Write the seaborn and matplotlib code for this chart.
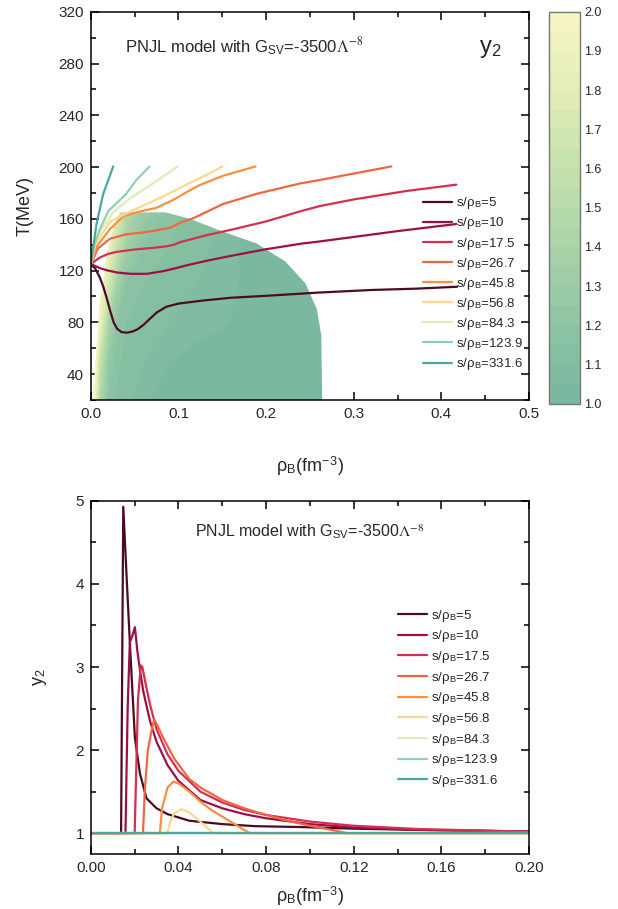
import numpy as np
import pandas as pd
import matplotlib.pyplot as plt
import seaborn as sns
from matplotlib.patches import Polygon

# ---- legend labels / colours (s/rho_B values) ----
s_values = ["5", "10", "17.5", "26.7", "45.8", "56.8", "84.3", "123.9", "331.6"]
line_colors = ["#4d0a24", "#9c1046", "#d42f50", "#f26541", "#fa8f3f",
               "#fdd88c", "#dcedba", "#90cfb5", "#47aaa2"]

# ---- upper panel: isentropes T(rho_B) ----
rho_5 = [0.0, 0.005, 0.01, 0.014, 0.018, 0.022, 0.026, 0.030, 0.035, 0.041, 0.047, 0.053,
         0.06, 0.067, 0.075, 0.086, 0.10, 0.13, 0.16, 0.20, 0.26, 0.32, 0.37, 0.418]
T_5 = [125, 121.5, 115, 108, 99, 89, 80, 75, 72.5, 72, 72.8, 74.5, 78, 82.5, 87.5, 92,
       94.5, 97, 99, 100.5, 103, 105, 106, 107.5]
rho_10 = [0.0, 0.01, 0.018, 0.03, 0.045, 0.064, 0.082, 0.095, 0.109, 0.135, 0.163, 0.2,
          0.24, 0.261, 0.3, 0.35, 0.417]
T_10 = [125, 122, 120.3, 118.5, 117.5, 117.5, 119.5, 121.5, 124, 128, 131.8, 136.5,
        140.8, 142.5, 146, 150.5, 156]
rho_17 = [0.0, 0.01, 0.02, 0.029, 0.05, 0.07, 0.086, 0.095, 0.102, 0.13, 0.163, 0.2,
          0.24, 0.261, 0.3, 0.36, 0.417]
T_17 = [125, 130, 133, 134.4, 136.3, 137.5, 138.7, 140, 142, 147, 152, 158, 166,
        169.8, 175, 181.5, 186.4]
rho_26 = [0.0, 0.008, 0.0217, 0.04, 0.06, 0.078, 0.09, 0.102, 0.117, 0.151, 0.19, 0.24,
          0.261, 0.3, 0.343]
T_26 = [125, 137, 144.6, 148, 149.5, 151.5, 153, 157, 160.5, 171.5, 179.5, 187.5, 190,
        195, 200.5]
rho_45 = [0.0, 0.006, 0.0217, 0.037, 0.055, 0.075, 0.095, 0.113, 0.124, 0.151, 0.17, 0.188]
T_45 = [125, 138, 152, 162, 165.5, 168.5, 175, 182, 186, 193.3, 197, 200.5]
rho_56 = [0.0, 0.005, 0.0217, 0.04, 0.056, 0.075, 0.098, 0.115, 0.135, 0.150]
T_56 = [125, 140, 157.7, 164, 169, 175, 182.5, 188.5, 195, 200.5]
rho_84 = [0.0, 0.004, 0.012, 0.0255, 0.045, 0.067, 0.083, 0.099]
T_84 = [125, 140, 152, 165, 176, 185.6, 193, 200.5]
rho_123 = [0.0, 0.003, 0.0103, 0.02, 0.04, 0.052, 0.067]
T_123 = [125, 138, 152, 166, 179, 190, 200.5]
rho_331 = [0.0, 0.0027, 0.0065, 0.014, 0.0255]
T_331 = [125, 138, 156, 179, 200.5]

# ---- upper panel: y2 map (coarse table) ----
map_rho = [0.0, 0.005, 0.01, 0.02, 0.03, 0.04, 0.06, 0.09, 0.12, 0.15, 0.18, 0.22, 0.27]
map_T = [20, 50, 80, 110, 140, 170]
map_y2 = [
    [2.0, 1.9, 1.45, 1.2, 1.14, 1.12, 1.06, 1.02, 1.0, 1.0, 1.0, 1.0, 1.0],
    [2.0, 2.0, 1.6, 1.25, 1.16, 1.13, 1.1, 1.05, 1.02, 1.0, 1.0, 1.0, 1.0],
    [2.0, 2.0, 1.9, 1.4, 1.2, 1.15, 1.12, 1.1, 1.08, 1.06, 1.02, 1.0, 1.0],
    [2.0, 2.0, 2.0, 1.7, 1.35, 1.2, 1.15, 1.12, 1.1, 1.08, 1.03, 1.0, 1.0],
    [2.0, 2.0, 2.0, 1.9, 1.6, 1.35, 1.2, 1.15, 1.12, 1.08, 1.03, 1.0, 1.0],
    [2.0, 2.0, 2.0, 2.0, 1.8, 1.5, 1.3, 1.18, 1.12, 1.08, 1.03, 1.0, 1.0],
]
# edge of the region where y2 is defined
edge_rho = [0.002, 0.0065, 0.0103, 0.014, 0.018, 0.025, 0.033, 0.085, 0.113, 0.151,
            0.189, 0.222, 0.245, 0.258, 0.263, 0.264]
edge_T = [20, 60, 98, 110, 132, 152, 165, 165, 160, 150, 141, 127, 110, 90, 70, 20]

# ---- lower panel: y2(rho_B) ----
b_rho_5 = [0.0, 0.0138, 0.0148, 0.0163, 0.0178, 0.0190, 0.0201, 0.0224, 0.0254, 0.030,
           0.035, 0.045, 0.06, 0.075, 0.095, 0.12, 0.15, 0.2]
b_y2_5 = [1, 1, 4.93, 4.1, 3.3, 2.7, 2.15, 1.72, 1.42, 1.3, 1.23, 1.15, 1.11, 1.085,
          1.075, 1.055, 1.04, 1.02]
b_rho_10 = [0.0, 0.0158, 0.0168, 0.0178, 0.0190, 0.0201, 0.0212, 0.0225, 0.024, 0.027,
            0.030, 0.035, 0.04, 0.05, 0.06, 0.07, 0.08, 0.10, 0.12, 0.15, 0.2]
b_y2_10 = [1, 1, 2.5, 3.3, 3.38, 3.48, 3.2, 2.95, 2.7, 2.35, 2.1, 1.82, 1.63, 1.4, 1.3,
           1.23, 1.18, 1.11, 1.07, 1.04, 1.02]
b_rho_17 = [0.0, 0.0200, 0.0215, 0.0228, 0.0235, 0.025, 0.027, 0.030, 0.035, 0.04, 0.05,
            0.06, 0.07, 0.08, 0.10, 0.12, 0.15, 0.2]
b_y2_17 = [1, 1, 2.6, 3.02, 3.0, 2.8, 2.55, 2.25, 1.95, 1.75, 1.5, 1.37, 1.28, 1.22,
           1.14, 1.09, 1.05, 1.02]
b_rho_26 = [0.0, 0.0238, 0.0246, 0.026, 0.0282, 0.029, 0.033, 0.038, 0.045, 0.05, 0.06,
            0.07, 0.08, 0.09, 0.1, 0.11, 0.117, 0.2]
b_y2_26 = [1, 1, 1.5, 2.0, 2.3, 2.37, 2.15, 1.9, 1.65, 1.55, 1.4, 1.3, 1.22, 1.15, 1.09,
           1.04, 1.0, 1.0]
b_rho_45 = [0.0, 0.0315, 0.0325, 0.035, 0.0376, 0.04, 0.045, 0.05, 0.055, 0.06, 0.065,
            0.07, 0.0726, 0.2]
b_y2_45 = [1, 1, 1.3, 1.55, 1.62, 1.6, 1.5, 1.38, 1.28, 1.2, 1.12, 1.04, 1.0, 1.0]
b_rho_56 = [0.0, 0.0350, 0.036, 0.038, 0.0414, 0.045, 0.05, 0.0558, 0.2]
b_y2_56 = [1, 1, 1.12, 1.24, 1.29, 1.25, 1.14, 1.0, 1.0]
b_rho_flat = [0.0, 0.2]
b_y2_flat = [1, 1]

top_rho = [rho_5, rho_10, rho_17, rho_26, rho_45, rho_56, rho_84, rho_123, rho_331]
top_T = [T_5, T_10, T_17, T_26, T_45, T_56, T_84, T_123, T_331]
bot_rho = [b_rho_5, b_rho_10, b_rho_17, b_rho_26, b_rho_45, b_rho_56,
           b_rho_flat, b_rho_flat, b_rho_flat]
bot_y2 = [b_y2_5, b_y2_10, b_y2_17, b_y2_26, b_y2_45, b_y2_56,
          b_y2_flat, b_y2_flat, b_y2_flat]

names = ["s/ρ$_\\mathregular{B}$=" + s for s in s_values]
pal = dict(zip(names, line_colors))


def long_frame(xs, ys, xname, yname):
    parts = []
    for nm, x, y in zip(names, xs, ys):
        parts.append(pd.DataFrame({xname: x, yname: y, "curve": nm}))
    return pd.concat(parts, ignore_index=True)


df_top = long_frame(top_rho, top_T, "rho", "T")
df_bot = long_frame(bot_rho, bot_y2, "rho", "y2")

sns.set_style("ticks")
plt.rcParams["font.family"] = ["Liberation Sans", "DejaVu Sans"]
plt.rcParams["mathtext.fontset"] = "stix"

fig = plt.figure(figsize=(6.18, 9.09), dpi=100)
ax1 = fig.add_axes([0.147, 0.560, 0.709, 0.427])
cax = fig.add_axes([0.888, 0.556, 0.050, 0.431])
ax2 = fig.add_axes([0.147, 0.0605, 0.709, 0.3885])

# colour map of y2
cmap = sns.blend_palette(["#78b79f", "#8dc4a4", "#a9d3a7", "#c5e1ad", "#e2edb7", "#f8f6c6"],
                         as_cmap=True)
cs = ax1.contourf(map_rho, map_T, np.array(map_y2), levels=np.linspace(1, 2, 21),
                  cmap=cmap, vmin=1, vmax=2)
clip = Polygon(np.column_stack([edge_rho, edge_T]), closed=True, transform=ax1.transData)
cs.set_clip_path(clip)

sns.lineplot(data=df_top, x="rho", y="T", hue="curve", hue_order=names, palette=pal,
             estimator=None, sort=False, lw=1.6, ax=ax1)
sns.lineplot(data=df_bot, x="rho", y="y2", hue="curve", hue_order=names, palette=pal,
             estimator=None, sort=False, lw=1.6, ax=ax2)

# upper axes
ax1.set_xlim(0, 0.5)
ax1.set_ylim(20, 320)
ax1.set_xticks(np.arange(0, 0.51, 0.1))
ax1.set_xticks(np.arange(0.05, 0.5, 0.1), minor=True)
ax1.set_yticks(np.arange(40, 321, 40))
ax1.set_yticks(np.arange(20, 320, 40), minor=True)
ax1.xaxis.set_major_formatter(plt.FormatStrFormatter("%.1f"))

# lower axes
ax2.set_xlim(0, 0.2)
ax2.set_ylim(0.75, 5)
ax2.set_xticks(np.arange(0, 0.201, 0.04))
ax2.set_xticks(np.arange(0.02, 0.2, 0.04), minor=True)
ax2.set_yticks([1, 2, 3, 4, 5])
ax2.set_yticks([1.5, 2.5, 3.5, 4.5], minor=True)
ax2.xaxis.set_major_formatter(plt.FormatStrFormatter("%.2f"))

for ax in (ax1, ax2):
    ax.get_legend().remove()
    ax.tick_params(which="both", direction="in", top=True, right=True,
                   bottom=True, left=True, width=1.1, color="black", labelsize=11, pad=5)
    ax.tick_params(which="major", length=5.5)
    ax.tick_params(which="minor", length=3.5)
    for sp in ax.spines.values():
        sp.set_linewidth(1.1)
        sp.set_color("black")

leg_kw = dict(frameon=False, fontsize=9.5, handlelength=2.2, handletextpad=0.3,
              borderpad=0, borderaxespad=0, loc="upper left")
h, l = ax1.get_legend_handles_labels()
ax1.legend(h, l, bbox_to_anchor=(0.758, 0.527), labelspacing=0.31, **leg_kw)
h2, l2 = ax2.get_legend_handles_labels()
ax2.legend(h2, l2, bbox_to_anchor=(0.702, 0.697), labelspacing=0.35, **leg_kw)

ax1.set_xlabel("ρ$_\\mathregular{B}$(fm$^\\mathregular{-3}$)", fontsize=13)
ax1.set_ylabel("T(MeV)", fontsize=13)
ax1.xaxis.set_label_coords(0.5, -0.14)
ax1.yaxis.set_label_coords(-0.13, 0.5)
ax1.text(0.078, 0.91, "PNJL model with G$_\\mathregular{SV}$=-3500$\\Lambda^{-8}$",
         transform=ax1.transAxes, fontsize=12, va="center")
ax1.text(0.885, 0.905, "y$_\\mathregular{2}$", transform=ax1.transAxes, fontsize=17,
         va="center")

ax2.set_xlabel("ρ$_\\mathregular{B}$(fm$^\\mathregular{-3}$)", fontsize=13)
ax2.set_ylabel("y$_\\mathregular{2}$", fontsize=13)
ax2.xaxis.set_label_coords(0.5, -0.085)
ax2.yaxis.set_label_coords(-0.095, 0.5)
ax2.text(0.237, 0.912, "PNJL model with G$_\\mathregular{SV}$=-3500$\\Lambda^{-8}$",
         transform=ax2.transAxes, fontsize=11.5, va="center")

# colorbar
cb = fig.colorbar(cs, cax=cax, ticks=np.arange(1.0, 2.01, 0.1))
cb.ax.tick_params(direction="in", length=3, color="#777777", labelsize=9, width=0.8,
                  right=True, left=False, top=False)
cb.ax.minorticks_off()
cb.ax.yaxis.set_major_formatter(plt.FormatStrFormatter("%.1f"))
cb.outline.set_edgecolor("#777777")
cb.outline.set_linewidth(1)

fig.savefig("out.png", dpi=100)
